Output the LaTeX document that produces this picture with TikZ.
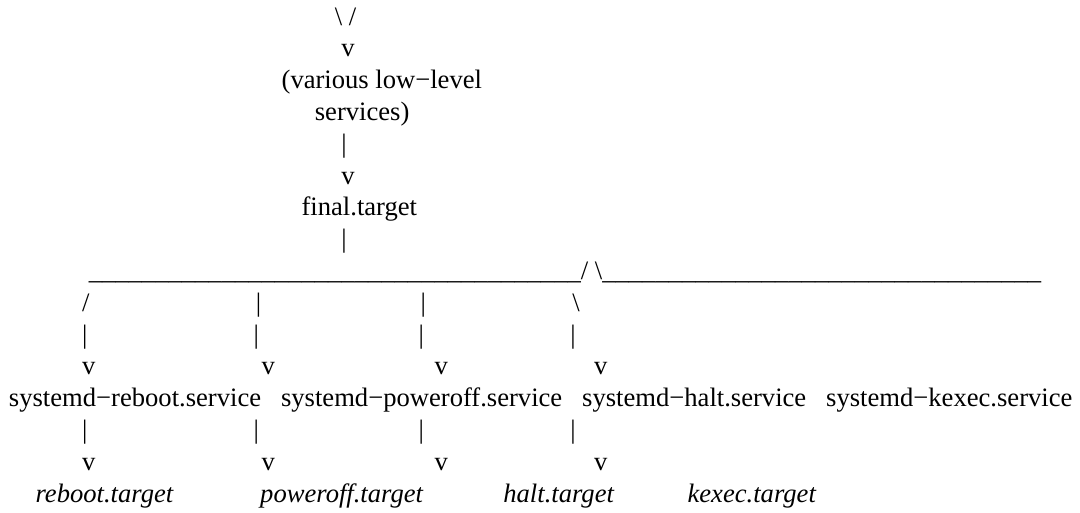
\documentclass[tikz,border=0pt]{standalone}
\usepackage{fontspec}
\setmainfont{Liberation Serif}
\usepackage{tikz}
\usetikzlibrary{positioning}

% ascii art: one node per line, spaces kept as interword gaps
\newcommand\artfont{\fontsize{26.6}{32}\selectfont}
\newcommand\gap[1]{\hspace*{#1\fontdimen2\font}}
\newcommand\unders[1]{\foreach \k in {1,...,#1}{\_}}

\tikzset{
    artline/.style={inner sep=0pt, outer sep=0pt, anchor=base west, font=\artfont},
}

\begin{document}
\begin{tikzpicture}
        [x=1pt, y=-1pt]

        \useasboundingbox (0,0) rectangle (1080,512);

        \node[artline] (join)     at (9,25)    {\gap{49}\textbackslash\ /};
        \node[artline] (joinv)    at (9,56.8)  {\gap{50}v};
        \node[artline] (lowlvl)   at (9,88.6)  {\gap{41}(various low−level};
        \node[artline] (lowlvlb)  at (9,120.4) {\gap{46}services)};
        \node[artline] (lowbar)   at (9,152.2) {\gap{50}|};
        \node[artline] (lowv)     at (9,184)   {\gap{50}v};
        \node[artline] (final)    at (9,215.8) {\gap{44}final.target};
        \node[artline] (finalbar) at (9,247.6) {\gap{50}|};

        % the fork
        \node[artline] (fork)     at (9,279.4) {\gap{12}\unders{37}/\ \textbackslash\unders{33}};
        \node[artline] (forkb)    at (9,311.2) {\gap{11}/\gap{25}|\gap{24}|\gap{22}\textbackslash};
        \node[artline] (forkc)    at (9,343)   {\gap{11}|\gap{25}|\gap{24}|\gap{22}|};
        \node[artline] (forkv)    at (9,374.8) {\gap{11}v\gap{25}v\gap{24}v\gap{22}v};

        % services
        \node[artline] (services) at (9,406.6)
            {systemd−reboot.service\gap{3}systemd−poweroff.service\gap{3}systemd−halt.service\gap{3}systemd−kexec.service};
        \node[artline] (svcbar)   at (9,438.4) {\gap{11}|\gap{25}|\gap{24}|\gap{22}|};
        \node[artline] (svcv)     at (9,470.2) {\gap{11}v\gap{25}v\gap{24}v\gap{22}v};

        % targets
        \node[artline] (targets)  at (9,502)
            {\gap{4}\textit{reboot.target}\gap{13}\textit{poweroff.target}\gap{12}\textit{halt.target}\gap{11}\textit{kexec.target}};

    \end{tikzpicture}
\end{document}
